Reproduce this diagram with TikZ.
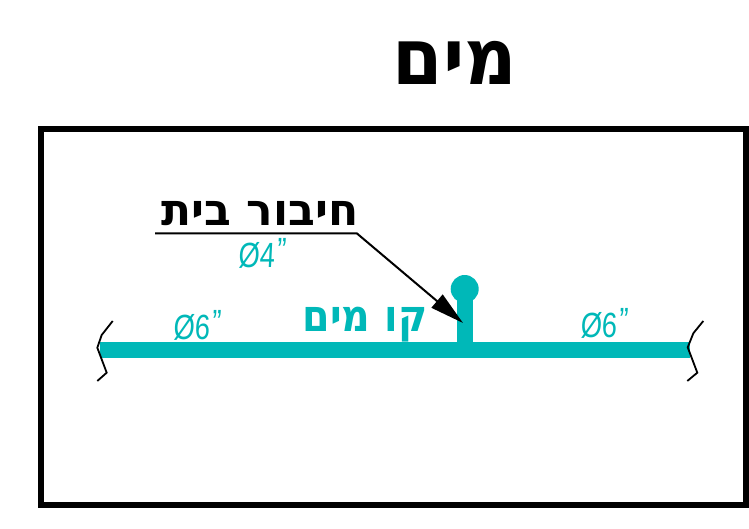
\documentclass[tikz,border=0pt]{standalone}
\usepackage{fontspec}
\usetikzlibrary{arrows.meta}
\TeXXeTstate=1
\newfontfamily\hebfont[Script=Hebrew]{DejaVu Sans}
\newfontfamily\hebtitle[Script=Hebrew,FakeStretch=0.93]{DejaVu Sans}
\newfontfamily\hebteal[Script=Hebrew,FakeStretch=0.9]{DejaVu Sans}
\newfontfamily\dimfont[FakeStretch=0.78,FakeSlant=0.05]{Liberation Sans}
\definecolor{water}{HTML}{00B8B8}
\newcommand{\dimtext}[1]{Ø#1\kern2pt\raisebox{5pt}{”}}
\tikzset{
  frame/.style={draw=black,line width=6pt},
  pipe/.style={draw=water,line width=16pt},
  breakline/.style={draw=black,line width=1.8pt},
  leader/.style={draw=black,line width=2pt},
  title/.style={inner sep=0pt,text=black,font=\hebtitle\bfseries\fontsize{78}{78}\selectfont},
  blacklabel/.style={inner sep=0pt,text=black,font=\hebfont\bfseries\fontsize{44}{44}\selectfont},
  teallabel/.style={inner sep=0pt,text=water,font=\hebteal\bfseries\fontsize{44}{44}\selectfont},
  dim/.style={inner sep=0pt,text=water,font=\dimfont\fontsize{35}{35}\selectfont},
}
\begin{document}
\begin{tikzpicture}[x=1pt,y=-1pt]
\useasboundingbox (0,0) rectangle (749,529);
\fill[white] (0,0) rectangle (749,529);
\node[title] (titletext) at (455,63) {\beginR מים\endR};
\draw[frame] (41,129) rectangle (746,505);
\coordinate (pipeL) at (100,349.7);
\coordinate (pipeR) at (690,349.7);
\coordinate (stemTop) at (464.7,289);
\coordinate (stemBase) at (464.7,349.7);
\draw[pipe] (pipeL) -- (pipeR);
\draw[pipe] (stemBase) -- (stemTop);
\fill[water] (stemTop) circle (14);
\draw[breakline] (112.7,321) -- (101.7,335) -- (97.3,347.7) -- (106.7,372.7) -- (97.3,381);
\draw[breakline] (703.3,321) -- (693.3,333.3) -- (687.7,347.3) -- (697.3,372.7) -- (687.3,381);
\node[blacklabel] (house) at (260,214) {\beginR חיבור בית\endR};
\node[teallabel] (line) at (365,325) {\beginR קו מים\endR};
\node[dim] (d4) at (262,253) {\dimtext{4}};
\node[dim] (d6l) at (197,325) {\dimtext{6}};
\node[dim] (d6r) at (604,323) {\dimtext{6}};
\coordinate (leadStart) at (155,233.5);
\coordinate (leadBend) at (357,233.5);
\coordinate (leadTip) at (463,323);
\draw[leader,-{Triangle[length=34pt,width=17pt]}] (leadStart) -- (leadBend) -- (leadTip);
\end{tikzpicture}
\end{document}
